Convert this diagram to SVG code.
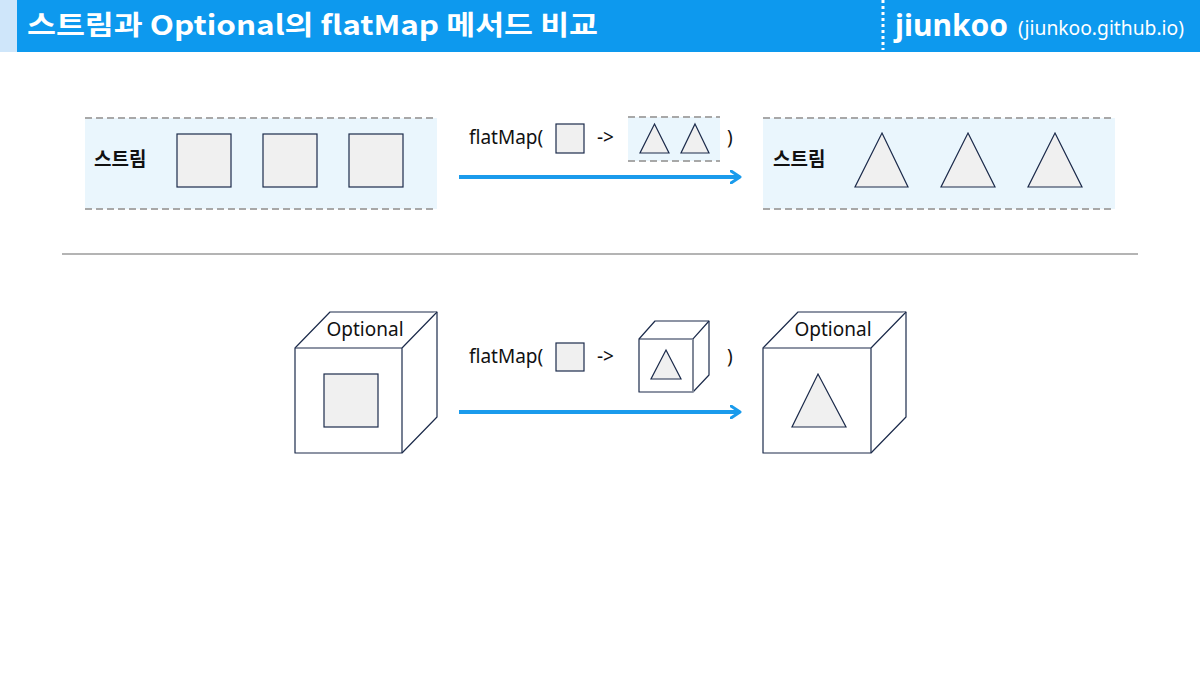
<svg xmlns="http://www.w3.org/2000/svg" width="1200" height="675" viewBox="0 0 1200 675">
<defs>
<style>
.shape{fill:#f0f0f0;stroke:#1c2b4b;stroke-width:1.2}
.cube{fill:#ffffff;stroke:#1c2b4b;stroke-width:1.2;stroke-linejoin:round}
.band{fill:#eaf6fd}
.dash{stroke:#a8a8a8;stroke-width:2;stroke-dasharray:7,4;fill:none}
.lbl{font-family:"Noto Sans CJK KR","Noto Sans",sans-serif;font-size:19px;font-weight:bold;fill:#111}
.code{font-family:"Noto Sans","Noto Sans CJK KR",sans-serif;font-size:19px;fill:#111}
.opt{font-family:"Noto Sans","Noto Sans CJK KR",sans-serif;font-size:19px;fill:#111;text-anchor:middle}
.arrow{stroke:#1a9bec;stroke-width:4;fill:none}
</style>
<marker id="ah" viewBox="0 0 12 14" refX="10" refY="7" markerWidth="12" markerHeight="14" markerUnits="userSpaceOnUse" orient="auto">
<path d="M1,1 L10,7 L1,13" fill="none" stroke="#1a9bec" stroke-width="3" stroke-linecap="round" stroke-linejoin="round"/>
</marker>
</defs>
<rect width="1200" height="675" fill="#ffffff"/>
<g id="header">
<rect x="0" y="0" width="17" height="52" fill="#cfe6fa"/>
<rect x="17" y="0" width="1183" height="52" fill="#0d99ee"/>
<line x1="883" y1="0" x2="883" y2="50" stroke="#ffffff" stroke-width="3" stroke-dasharray="3,3"/>
<text x="27" y="35" font-family="'Noto Sans CJK KR','Noto Sans',sans-serif" font-size="27" font-weight="bold" fill="#ffffff" textLength="571" lengthAdjust="spacingAndGlyphs">스트림과 Optional의 flatMap 메서드 비교</text>
<text x="895" y="36" font-family="'Noto Sans','Noto Sans CJK KR',sans-serif" font-size="30" font-weight="bold" fill="#ffffff" textLength="113" lengthAdjust="spacingAndGlyphs">jiunkoo</text>
<text x="1018" y="35" font-family="'Noto Sans','Noto Sans CJK KR',sans-serif" font-size="19" fill="#ffffff" textLength="166" lengthAdjust="spacingAndGlyphs">(jiunkoo.github.io)</text>
</g>
<g id="stream-in">
<rect class="band" x="85" y="118" width="352" height="91"/>
<line class="dash" x1="85" y1="118" x2="437" y2="118"/>
<line class="dash" x1="85" y1="209" x2="437" y2="209"/>
<text class="lbl" x="94" y="166">스트림</text>
<rect class="shape" x="177" y="134" width="54" height="53"/>
<rect class="shape" x="263" y="134" width="54" height="53"/>
<rect class="shape" x="349" y="134" width="54" height="53"/>
</g>
<g id="stream-func">
<text class="code" x="469" y="144">flatMap(</text>
<rect class="shape" x="556" y="124" width="28" height="29"/>
<text class="code" x="597" y="144">-&gt;</text>
<rect class="band" x="628" y="117" width="92" height="44"/>
<line class="dash" x1="628" y1="117" x2="720" y2="117"/>
<line class="dash" x1="628" y1="161" x2="720" y2="161"/>
<polygon class="shape" points="654.5,124 669,153 640,153"/>
<polygon class="shape" points="695,124 709,153 681,153"/>
<text class="code" x="727" y="144">)</text>
</g>
<g id="stream-out">
<rect class="band" x="763" y="118" width="352" height="91"/>
<line class="dash" x1="763" y1="118" x2="1115" y2="118"/>
<line class="dash" x1="763" y1="209" x2="1115" y2="209"/>
<text class="lbl" x="773" y="166">스트림</text>
<polygon class="shape" points="882,133 908,187 855,187"/>
<polygon class="shape" points="968,133 995,187 941,187"/>
<polygon class="shape" points="1055,133 1082,187 1028,187"/>
</g>
<g id="separator">
<line x1="62" y1="254" x2="1138" y2="254" stroke="#b4b4b4" stroke-width="2"/>
</g>
<g id="optional-in">
<path class="cube" d="M295,348 L330,312 L437,312 L437,417 L402,453 L295,453 Z"/>
<path class="cube" d="M295,348 L402,348 L437,312 M402,348 L402,453" fill="none"/>
<text class="opt" x="365" y="336">Optional</text>
<rect class="shape" x="324" y="374" width="54" height="53"/>
</g>
<g id="optional-func">
<text class="code" x="469" y="363">flatMap(</text>
<rect class="shape" x="556" y="343" width="28" height="28"/>
<text class="code" x="597" y="363">-&gt;</text>
<path d="M639,339 L655,321 L709,321 L709,375 L693,392 L639,392 Z" fill="#ffffff" stroke="#1c2b4b" stroke-width="1.2" stroke-linejoin="round"/>
<path d="M639,339 L693,339 L709,321" fill="none" stroke="#1c2b4b" stroke-width="1.2"/>
<line x1="693" y1="339" x2="693" y2="392" stroke="#808898" stroke-width="2"/>
<polygon class="shape" points="666,350 681,379 651,379"/>
<text class="code" x="727" y="363">)</text>
</g>
<g id="optional-out">
<path class="cube" d="M763,348 L798,312 L906,312 L906,417 L871,453 L763,453 Z"/>
<path class="cube" d="M763,348 L871,348 L906,312 M871,348 L871,453" fill="none"/>
<text class="opt" x="833" y="336">Optional</text>
<polygon class="shape" points="818,374 846,427 792,427"/>
</g>
<g id="connectors">
<line class="arrow" x1="459" y1="177" x2="740" y2="177" marker-end="url(#ah)"/>
<line class="arrow" x1="459" y1="412" x2="740" y2="412" marker-end="url(#ah)"/>
</g>
</svg>
